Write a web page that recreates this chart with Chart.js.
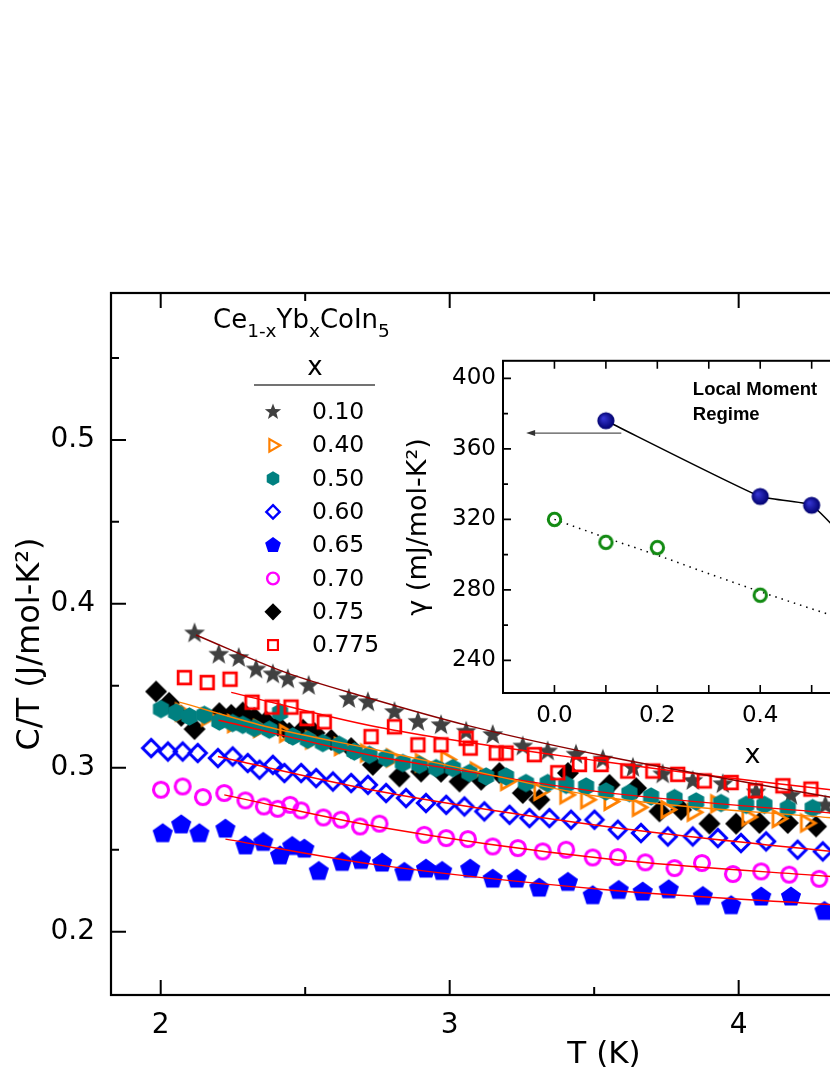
<!DOCTYPE html>
<html><head><meta charset="utf-8">
<script src="https://cdn.jsdelivr.net/npm/chart.js@4/dist/chart.umd.min.js"></script>
<style>
html,body{margin:0;padding:0;background:#fff;overflow:hidden;width:830px;height:1075px;}
#wrap{position:relative;width:830px;height:1075px;overflow:hidden;background:#fff;}
#main{position:absolute;left:0;top:0;}
#inset{position:absolute;left:380px;top:340px;}
</style></head><body>
<div id="wrap">
<canvas id="main" width="1120" height="1075"></canvas>
<canvas id="inset" width="700" height="440"></canvas>
</div>
<script>
const FONT = 'DejaVu Sans';

// ---------- main plot data: T (K) and C/T (J/mol-K^2) ----------
const T_010 = [2.117,2.201,2.270,2.330,2.388,2.440,2.512,2.651,2.717,2.809,2.890,2.970,3.057,3.149,3.253,3.339,3.437,3.530,3.634,3.737,3.841,3.945,4.060,4.181,4.300];
const C_010 = [0.382,0.369,0.367,0.360,0.357,0.354,0.350,0.342,0.340,0.334,0.328,0.326,0.322,0.320,0.313,0.310,0.308,0.305,0.300,0.296,0.292,0.290,0.285,0.283,0.277];

const T_040 = [2.07,2.16,2.25,2.34,2.43,2.52,2.62,2.71,2.80,2.90,2.988,3.09,3.195,3.310,3.40,3.472,3.553,3.651,3.75,3.841,3.922,4.03,4.135,4.233];
const C_040 = [0.334,0.331,0.327,0.324,0.321,0.317,0.313,0.309,0.306,0.303,0.305,0.298,0.2917,0.2856,0.2835,0.2805,0.2795,0.2759,0.2745,0.2729,0.278,0.270,0.269,0.2663];

const T_050 = [2.001,2.053,2.099,2.151,2.203,2.249,2.284,2.324,2.376,2.413,2.457,2.509,2.561,2.618,2.670,2.722,2.780,2.838,2.895,2.953,3.011,3.068,3.126,3.195,3.264,3.339,3.403,3.472,3.541,3.622,3.697,3.778,3.853,3.939,4.026,4.089,4.170,4.256];
const C_050 = [0.3358,0.3337,0.3313,0.3323,0.3282,0.3273,0.3262,0.3242,0.3232,0.3337,0.3191,0.3171,0.3151,0.3140,0.3099,0.3079,0.3059,0.3029,0.3018,0.2998,0.2998,0.2968,0.2947,0.2947,0.2907,0.2907,0.2896,0.2886,0.2856,0.2846,0.2825,0.2815,0.2795,0.2785,0.2774,0.2774,0.2754,0.2754];

const T_060 = [1.967,2.025,2.076,2.128,2.198,2.249,2.301,2.342,2.388,2.428,2.486,2.538,2.596,2.659,2.717,2.780,2.849,2.918,2.988,3.051,3.120,3.207,3.276,3.345,3.420,3.501,3.582,3.662,3.755,3.841,3.928,4.008,4.095,4.204,4.291];
const C_060 = [0.3120,0.3099,0.3099,0.3090,0.3059,0.3069,0.3029,0.2988,0.3018,0.2968,0.2968,0.2937,0.2916,0.2907,0.2896,0.2846,0.2815,0.2785,0.2774,0.2764,0.2734,0.2713,0.2693,0.2693,0.2683,0.2683,0.2622,0.2602,0.2581,0.2581,0.2571,0.2541,0.2551,0.2500,0.2490];

const T_065 = [2.007,2.071,2.134,2.224,2.293,2.355,2.413,2.455,2.497,2.547,2.628,2.693,2.766,2.843,2.918,2.974,3.071,3.149,3.232,3.310,3.409,3.495,3.585,3.668,3.758,3.876,3.974,4.078,4.181,4.297];
const C_065 = [0.2598,0.2652,0.2598,0.2626,0.2524,0.2545,0.2463,0.2520,0.2504,0.2368,0.2423,0.2435,0.2419,0.2362,0.2382,0.2368,0.2382,0.2321,0.2321,0.2266,0.2301,0.2220,0.2252,0.2242,0.2256,0.2215,0.2159,0.2212,0.2212,0.2124];

const T_070 = [2.001,2.076,2.146,2.220,2.293,2.357,2.405,2.448,2.486,2.563,2.624,2.690,2.757,2.912,2.988,3.063,3.149,3.236,3.322,3.403,3.495,3.582,3.677,3.778,3.873,3.980,4.078,4.175,4.279];
const C_070 = [0.2866,0.2886,0.2821,0.2846,0.2801,0.2764,0.2750,0.2774,0.2740,0.2697,0.2683,0.2642,0.2659,0.2591,0.2571,0.2565,0.2520,0.2510,0.2490,0.2500,0.2453,0.2455,0.2423,0.2388,0.2419,0.2352,0.2368,0.2348,0.2323];

const T_075 = [1.984,2.029,2.071,2.117,2.203,2.244,2.284,2.324,2.365,2.406,2.445,2.492,2.532,2.590,2.659,2.734,2.826,2.901,2.970,3.034,3.109,3.172,3.253,3.310,3.409,3.553,3.645,3.726,3.801,3.899,3.991,4.072,4.170,4.268];
const C_075 = [0.3465,0.3396,0.3317,0.3236,0.3333,0.3323,0.3337,0.3303,0.3282,0.3256,0.3212,0.3232,0.3212,0.3170,0.3120,0.3018,0.2947,0.2977,0.2976,0.2916,0.2927,0.2968,0.2846,0.2805,0.2968,0.2896,0.2876,0.2734,0.2744,0.2659,0.2659,0.2663,0.2663,0.2642];

const T_0775 = [2.082,2.161,2.240,2.316,2.385,2.451,2.506,2.566,2.728,2.809,2.890,2.970,3.057,3.071,3.161,3.195,3.293,3.374,3.449,3.524,3.616,3.703,3.789,3.881,3.974,4.058,4.153,4.250];
const C_0775 = [0.355,0.352,0.354,0.340,0.337,0.337,0.330,0.328,0.319,0.325,0.314,0.314,0.318,0.312,0.309,0.309,0.308,0.297,0.302,0.302,0.298,0.298,0.296,0.292,0.291,0.286,0.289,0.287];

// fit curves
const FIT_T_010 = [2.122,2.434,2.711,3.057,3.541,4.32,4.5];
const FIT_C_010 = [0.381,0.358,0.343,0.326,0.307,0.282,0.2765];
const FIT_T_0775 = [2.244,2.745,3.523,4.319,4.5];
const FIT_C_0775 = [0.346,0.325,0.304,0.2866,0.2835];
const FIT_T_040 = [2.064,2.383,2.745,3.005,3.524,4.32,4.5];
const FIT_C_040 = [0.340,0.3244,0.311,0.301,0.2823,0.2695,0.267];
const FIT_T_050 = [2.2,2.745,3.0,3.507,4.32,4.5];
const FIT_C_050 = [0.329,0.307,0.2995,0.2856,0.2724,0.270];
const FIT_T_060 = [2.198,2.745,3.541,4.32,4.5];
const FIT_C_060 = [0.3069,0.2860,0.2642,0.2490,0.246];
const FIT_T_070 = [2.220,2.745,3.541,4.32,4.5];
const FIT_C_070 = [0.2835,0.2642,0.2445,0.2337,0.2315];
const FIT_T_065 = [2.224,2.745,3.541,4.32,4.5];
const FIT_C_065 = [0.2565,0.2409,0.2256,0.2165,0.2145];

const X_TICKS = [2,3,4,5];
const X_MINOR = [2.5,3.5,4.5];
const Y_TICKS = [0.2,0.3,0.4,0.5];
const Y_MINOR = [0.25,0.35,0.45,0.55];
const LEGEND_LABELS = ['0.10','0.40','0.50','0.60','0.65','0.70','0.75','0.775'];

// ---------- inset data: x and gamma (mJ/mol-K^2) ----------
const INSET_X_BLUE = [0.1,0.4,0.5,0.6];
const INSET_G_BLUE = [376,333,328,298];
const INSET_X_GREEN = [0.0,0.1,0.2,0.4];
const INSET_G_GREEN = [320,307,304,277];
const INSET_FIT_X = [0.0,0.1,0.2,0.3,0.4,0.5,0.6];
const INSET_FIT_G = [320,309.6,299.7,289.2,279,269.3,260];
const INSET_X_TICKS = [0.0,0.2,0.4,0.6,0.8];
const INSET_X_MINOR = [0.1,0.3,0.5,0.7];
const INSET_Y_TICKS = [240,280,320,360,400];
const INSET_Y_MINOR = [260,300,340,380];
const ARROW_X = [0.13,-0.055];
const ARROW_G = 369;

// ---------- marker drawing ----------
function shapePath(ctx, type, r) {
  ctx.beginPath();
  if (type === 'star') {
    for (let i = 0; i < 10; i++) { const a = -Math.PI/2 + i*Math.PI/5; const rr = i % 2 ? r*0.42 : r; ctx.lineTo(rr*Math.cos(a), rr*Math.sin(a)); }
  } else if (type === 'triR') {
    for (let i = 0; i < 3; i++) { const a = i*2*Math.PI/3; ctx.lineTo(r*Math.cos(a), r*Math.sin(a)); }
  } else if (type === 'hex') {
    for (let i = 0; i < 6; i++) { const a = -Math.PI/2 + i*Math.PI/3; ctx.lineTo(r*Math.cos(a), r*Math.sin(a)); }
  } else if (type === 'diamond') {
    ctx.moveTo(0,-r); ctx.lineTo(r,0); ctx.lineTo(0,r); ctx.lineTo(-r,0);
  } else if (type === 'pent') {
    for (let i = 0; i < 5; i++) { const a = -Math.PI/2 + i*2*Math.PI/5; ctx.lineTo(r*Math.cos(a), r*Math.sin(a)); }
  } else if (type === 'circle') {
    ctx.arc(0,0,r,0,Math.PI*2);
  } else if (type === 'square') {
    ctx.rect(-r,-r,2*r,2*r);
  }
  ctx.closePath();
}
function drawMarker(ctx, x, y, m, scale) {
  ctx.save(); ctx.translate(x, y);
  const r = m.r*scale;
  shapePath(ctx, m.shape, r);
  if (m.sphere) {
    const g = ctx.createRadialGradient(-r*0.3,-r*0.3,r*0.1,0,0,r);
    g.addColorStop(0,'#3434d0'); g.addColorStop(1,'#00006e');
    ctx.fillStyle = g; ctx.fill();
  } else if (m.fill) { ctx.fillStyle = m.color; ctx.fill(); }
  else { ctx.strokeStyle = m.color; ctx.lineWidth = m.lw*scale; ctx.lineJoin = 'miter'; ctx.stroke(); }
  ctx.restore();
}
function markerCanvas(m) {
  const s = Math.ceil(2*m.r + 2*(m.lw||0) + 4);
  const c = document.createElement('canvas'); c.width = s; c.height = s;
  drawMarker(c.getContext('2d'), s/2, s/2, m, 1);
  return c;
}

const SERIES = [
  {T:T_010,  C:C_010,  order:8, marker:{shape:'star',r:11,fill:true,color:'#404040'}},
  {T:T_040,  C:C_040,  order:6, marker:{shape:'triR',r:9.3,lw:2.8,color:'#ff8000'}},
  {T:T_050,  C:C_050,  order:5, marker:{shape:'hex',r:9.3,fill:true,color:'#008080'}},
  {T:T_060,  C:C_060,  order:3, marker:{shape:'diamond',r:8.6,lw:3,color:'#0000ff'}},
  {T:T_065,  C:C_065,  order:1, marker:{shape:'pent',r:10.6,fill:true,color:'#0000ff'}},
  {T:T_070,  C:C_070,  order:2, marker:{shape:'circle',r:7.5,lw:3.1,color:'#ff00ff'}},
  {T:T_075,  C:C_075,  order:7, marker:{shape:'diamond',r:11,fill:true,color:'#000000'}},
  {T:T_0775, C:C_0775, order:4, marker:{shape:'square',r:6.3,lw:2.8,color:'#ff0000'}}
];
const FITS = [
  {T:FIT_T_010, C:FIT_C_010, color:'#8b0000'},
  {T:FIT_T_0775, C:FIT_C_0775, color:'#ff0000'},
  {T:FIT_T_040, C:FIT_C_040, color:'#ff8000'},
  {T:FIT_T_050, C:FIT_C_050, color:'#ff0000'},
  {T:FIT_T_060, C:FIT_C_060, color:'#ff0000'},
  {T:FIT_T_070, C:FIT_C_070, color:'#ff0000'},
  {T:FIT_T_065, C:FIT_C_065, color:'#ff0000'}
];
const pts = (X, Y) => X.map((v,i) => ({x:v, y:Y[i]}));

Chart.defaults.font.family = FONT;
Chart.defaults.color = '#000';

const datasets = [];
FITS.forEach(f => datasets.push({
  data: pts(f.T, f.C), showLine:true, pointRadius:0, borderColor:f.color, borderWidth:1.4,
  cubicInterpolationMode:'monotone', fill:false, order:0
}));
SERIES.forEach((s,i) => datasets.push({
  label: LEGEND_LABELS[i], data: pts(s.T, s.C), showLine:false,
  pointStyle: markerCanvas(s.marker), pointRadius: 6, order: s.order
}));

function inwardTicks(ctx, scale, values, len, a, horizontal) {
  for (const v of values) {
    const p = scale.getPixelForValue(v);
    if (horizontal) { ctx.moveTo(p, a.bottom); ctx.lineTo(p, a.bottom-len); ctx.moveTo(p, a.top); ctx.lineTo(p, a.top+len); }
    else { ctx.moveTo(a.left, p); ctx.lineTo(a.left+len, p); ctx.moveTo(a.right, p); ctx.lineTo(a.right-len, p); }
  }
}

const mainFrame = {
  id:'mainFrame',
  afterDraw(chart) {
    const {ctx, chartArea:a, scales:{x, y}} = chart;
    ctx.save();
    ctx.strokeStyle = '#000'; ctx.lineWidth = 2.2;
    ctx.strokeRect(a.left, a.top, a.right-a.left, a.bottom-a.top);
    ctx.lineWidth = 2;
    ctx.beginPath();
    inwardTicks(ctx, x, X_TICKS, 15, a, true);
    inwardTicks(ctx, x, X_MINOR, 8, a, true);
    inwardTicks(ctx, y, Y_TICKS, 15, a, false);
    inwardTicks(ctx, y, Y_MINOR, 8, a, false);
    ctx.stroke();
    // legend
    ctx.fillStyle = '#000'; ctx.textAlign = 'left'; ctx.textBaseline = 'alphabetic';
    let lx = 213; const base = 328;
    [['Ce',0],['1-x',1],['Yb',0],['x',1],['CoIn',0],['5',1]].forEach(([t,sub]) => {
      ctx.font = sub ? `18.5px "${FONT}"` : `26px "${FONT}"`;
      ctx.fillText(t, lx, sub ? base + 9 : base);
      lx += ctx.measureText(t).width;
    });
    ctx.font = `26px "${FONT}"`; ctx.textAlign = 'center';
    ctx.fillText('x', 315, 375);
    ctx.strokeStyle = '#444'; ctx.lineWidth = 1.5;
    ctx.beginPath(); ctx.moveTo(254, 385); ctx.lineTo(375, 385); ctx.stroke();
    ctx.font = `23.5px "${FONT}"`; ctx.textAlign = 'left'; ctx.textBaseline = 'middle';
    SERIES.forEach((s,i) => {
      const yy = 412 + i*33.3;
      drawMarker(ctx, 273, yy, s.marker, 0.78);
      ctx.fillStyle = '#000';
      ctx.fillText(LEGEND_LABELS[i], 312, yy + 1);
    });
    ctx.restore();
  }
};

new Chart(document.getElementById('main'), {
  type:'scatter',
  data:{datasets},
  options:{
    responsive:false, animation:false, devicePixelRatio:1,
    layout:{padding:{top:293, right:23, left:0, bottom:0}},
    plugins:{legend:{display:false}, tooltip:{enabled:false}},
    scales:{
      x:{type:'linear', min:1.828, max:5.24,
         afterBuildTicks: s => { s.ticks = X_TICKS.map(v => ({value:v})); },
         afterFit: s => { s.height = 80; },
         grid:{display:false, drawTicks:false}, border:{display:false},
         ticks:{font:{size:28}, color:'#000', padding:14, maxRotation:0, autoSkip:false, callback: v => String(v)},
         title:{display:true, text:'T (K)', font:{size:31}, color:'#000', padding:{top:0, bottom:1}}},
      y:{type:'linear', min:0.1614, max:0.5896,
         afterBuildTicks: s => { s.ticks = Y_TICKS.map(v => ({value:v})); },
         afterFit: s => { s.width = 111; },
         grid:{display:false, drawTicks:false}, border:{display:false},
         ticks:{font:{size:28}, color:'#000', padding:16, autoSkip:false, callback: v => Number(v).toFixed(1)},
         title:{display:true, text:'C/T (J/mol-K²)', font:{size:32}, color:'#000', padding:{top:11, bottom:0}}}
    }
  },
  plugins:[mainFrame]
});

// ---------- inset ----------
const blueMarker = {shape:'circle', r:8.6, sphere:true};
const greenMarker = {shape:'circle', r:6.2, lw:3, color:'#118a11'};

const insetFrame = {
  id:'insetFrame',
  afterDraw(chart) {
    const {ctx, chartArea:a, scales:{x, y}} = chart;
    ctx.save();
    ctx.strokeStyle = '#000'; ctx.lineWidth = 2;
    ctx.strokeRect(a.left, a.top, a.right-a.left, a.bottom-a.top);
    ctx.lineWidth = 1.6;
    ctx.beginPath();
    inwardTicks(ctx, x, INSET_X_TICKS, 8, a, true);
    inwardTicks(ctx, x, INSET_X_MINOR, 8, a, true);
    inwardTicks(ctx, y, INSET_Y_TICKS, 8, a, false);
    inwardTicks(ctx, y, INSET_Y_MINOR, 5, a, false);
    ctx.stroke();
    // arrow
    const x0 = x.getPixelForValue(ARROW_X[0]), x1 = x.getPixelForValue(ARROW_X[1]), ay = y.getPixelForValue(ARROW_G);
    ctx.strokeStyle = '#555'; ctx.fillStyle = '#333'; ctx.lineWidth = 1.3;
    ctx.beginPath(); ctx.moveTo(x0, ay); ctx.lineTo(x1 + 6, ay); ctx.stroke();
    ctx.beginPath(); ctx.moveTo(x1, ay); ctx.lineTo(x1 + 9, ay - 3); ctx.lineTo(x1 + 9, ay + 3); ctx.closePath(); ctx.fill();
    // annotation
    ctx.fillStyle = '#000'; ctx.font = 'bold 18.5px "Liberation Sans"';
    ctx.textAlign = 'left'; ctx.textBaseline = 'alphabetic';
    const tx = x.getPixelForValue(0.269);
    ctx.fillText('Local Moment', tx, y.getPixelForValue(390.5));
    ctx.fillText('Regime', tx, y.getPixelForValue(376.6));
    ctx.restore();
  }
};

new Chart(document.getElementById('inset'), {
  type:'scatter',
  data:{datasets:[
    {data:pts(INSET_FIT_X, INSET_FIT_G), showLine:true, pointRadius:0, borderColor:'#000', borderWidth:1.5, borderDash:[1.5,5], cubicInterpolationMode:'monotone', order:4},
    {data:pts(INSET_X_BLUE, INSET_G_BLUE), showLine:true, borderColor:'#000', borderWidth:1.5, tension:0.15, pointStyle:markerCanvas(blueMarker), pointRadius:6, order:1},
    {data:pts(INSET_X_GREEN, INSET_G_GREEN), showLine:false, pointStyle:markerCanvas(greenMarker), pointRadius:6, order:2}
  ]},
  options:{
    responsive:false, animation:false, devicePixelRatio:1,
    layout:{padding:{top:15, right:78, left:0, bottom:0}},
    plugins:{legend:{display:false}, tooltip:{enabled:false}},
    scales:{
      x:{type:'linear', min:-0.1, max:0.87,
         afterBuildTicks: s => { s.ticks = INSET_X_TICKS.map(v => ({value:v})); },
         afterFit: s => { s.height = 87; },
         grid:{display:false, drawTicks:false}, border:{display:false},
         ticks:{font:{size:23}, color:'#000', padding:9, maxRotation:0, autoSkip:false, callback: v => Number(v).toFixed(1)},
         title:{display:true, text:'x', font:{size:27}, color:'#000', padding:{top:0, bottom:8}}},
      y:{type:'linear', min:221.5, max:410,
         afterBuildTicks: s => { s.ticks = INSET_Y_TICKS.map(v => ({value:v})); },
         afterFit: s => { s.width = 123; },
         grid:{display:false, drawTicks:false}, border:{display:false},
         ticks:{font:{size:23}, color:'#000', padding:7, autoSkip:false, callback: v => String(v)},
         title:{display:true, text:'γ (mJ/mol-K²)', font:{size:27}, color:'#000', padding:{top:23, bottom:0}}}
    }
  },
  plugins:[insetFrame]
});
</script>
</body></html>
